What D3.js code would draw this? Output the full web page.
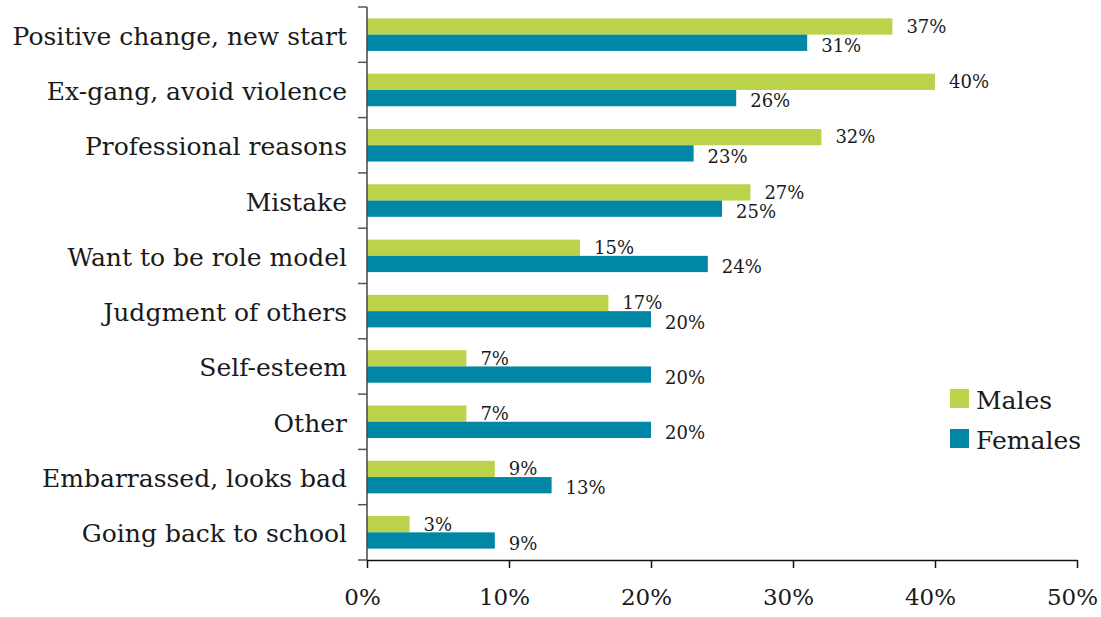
<!DOCTYPE html>
<html>
<head>
<meta charset="utf-8">
<script src="https://cdn.jsdelivr.net/npm/d3@7"></script>
<style>
  html, body { margin: 0; padding: 0; background: #fff; }
  svg text { font-family: "DejaVu Serif", serif; fill: #1a1a1a; }
</style>
</head>
<body>
<svg id="chart" width="1101" height="617"></svg>
<script>
// Reasons for leaving, share of respondents by gender
const categories = [
  "Positive change, new start",
  "Ex-gang, avoid violence",
  "Professional reasons",
  "Mistake",
  "Want to be role model",
  "Judgment of others",
  "Self-esteem",
  "Other",
  "Embarrassed, looks bad",
  "Going back to school"
];
const males   = [37, 40, 32, 27, 15, 17, 7, 7, 9, 3];
const females = [31, 26, 23, 25, 24, 20, 20, 20, 13, 9];
const seriesNames = ["Males", "Females"];
const seriesColors = ["#bad34b", "#0087a5"];
const xTicks = [0, 10, 20, 30, 40, 50];

const svg = d3.select("#chart");
const margin = { top: 7, right: 24, bottom: 57, left: 367 };
const W = 1101, H = 617;

const x = d3.scaleLinear().domain([0, 50]).range([margin.left, W - margin.right]);
const y = d3.scaleBand().domain(categories).range([margin.top, H - margin.bottom]).paddingInner(0).paddingOuter(0);
const sub = d3.scaleBand().domain(seriesNames).range([0, y.bandwidth()]).paddingInner(0).paddingOuter(0.7);

const rows = categories.map((c, i) => ({ cat: c, values: [males[i], females[i]] }));

const g = svg.append("g");
const groups = g.selectAll("g.row").data(rows).join("g")
  .attr("class", "row")
  .attr("transform", d => `translate(0,${y(d.cat)})`);

groups.selectAll("rect").data(d => d.values.map((v, k) => ({ v, k }))).join("rect")
  .attr("x", x(0))
  .attr("y", d => sub(seriesNames[d.k]))
  .attr("width", d => x(d.v) - x(0))
  .attr("height", sub.bandwidth())
  .attr("fill", d => seriesColors[d.k]);

groups.selectAll("text.val").data(d => d.values.map((v, k) => ({ v, k }))).join("text")
  .attr("class", "val")
  .attr("x", d => x(d.v) + 14)
  .attr("y", d => sub(seriesNames[d.k]) + sub.bandwidth() / 2 + (d.k === 0 ? 0 : 3))
  .attr("dy", "0.35em")
  .attr("font-size", 18)
  .text(d => d.v + "%");

// Y axis with category labels
const yAxis = d3.axisLeft(y).tickSize(0).tickPadding(20);
const yg = svg.append("g").attr("transform", `translate(${x(0)},0)`).call(yAxis);
yg.select(".domain").remove();
yg.selectAll(".tick text").attr("font-size", 25).attr("dy", "0.4em").attr("fill", "#1a1a1a");

// vertical axis line and boundary ticks
const bounds = categories.map(c => y(c)).concat([y.range()[1]]);
svg.append("line")
  .attr("x1", x(0)).attr("x2", x(0))
  .attr("y1", y.range()[0]).attr("y2", y.range()[1])
  .attr("stroke", "#444").attr("stroke-width", 1.5);
svg.selectAll("line.bt").data(bounds).join("line")
  .attr("class", "bt")
  .attr("x1", x(0) - 9).attr("x2", x(0))
  .attr("y1", d => d).attr("y2", d => d)
  .attr("stroke", "#555").attr("stroke-width", 1.5);

// X axis
const xAxis = d3.axisBottom(x).tickValues(xTicks).tickFormat(d => d + "%").tickSize(8).tickPadding(21).tickSizeOuter(0);
const xg = svg.append("g").attr("transform", `translate(0,${y.range()[1]})`).call(xAxis);
xg.select(".domain").attr("stroke", "#111").attr("stroke-width", 1.5);
xg.selectAll(".tick line").attr("stroke", "#111").attr("stroke-width", 1.5);
xg.selectAll(".tick text").attr("font-size", 23).attr("dx", -5).attr("fill", "#1a1a1a");

// Legend
const legend = svg.append("g").attr("transform", "translate(950,389)");
seriesNames.forEach((s, i) => {
  const lg = legend.append("g").attr("transform", `translate(0,${i * 40})`);
  lg.append("rect").attr("width", 19).attr("height", 19).attr("fill", seriesColors[i]);
  lg.append("text").attr("x", 26).attr("y", 10).attr("dy", "0.38em").attr("font-size", 25).text(s);
});
</script>
</body>
</html>
